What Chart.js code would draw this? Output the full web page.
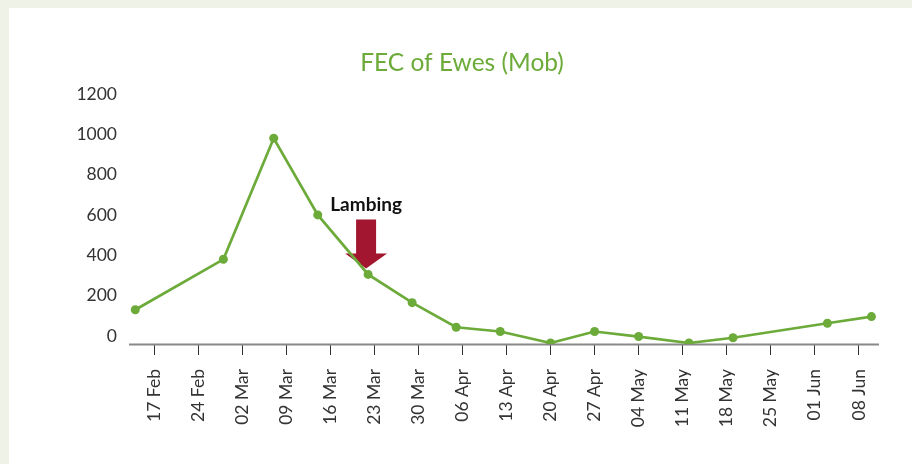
<!DOCTYPE html>
<html lang="en">
<head>
<meta charset="UTF-8">
<title>FEC of Ewes (Mob)</title>
<style>
  html, body { margin: 0; padding: 0; }
  body { width: 912px; height: 464px; background: #eff2e7; position: relative; overflow: hidden; }
  #panel { position: absolute; left: 9px; top: 8px; right: 0; bottom: 0; background: #fff; }
  #wrap { position: absolute; left: 0; top: 0; width: 912px; height: 464px; }
</style>
</head>
<body>
<div id="panel"></div>
<div id="wrap"><canvas id="myChart" width="912" height="464"></canvas></div>

<script src="https://cdn.jsdelivr.net/npm/chart.js"></script>
<script>
// sample dates and faecal egg counts
const sampleDates = ['2020-02-14', '2020-02-28', '2020-03-07', '2020-03-14', '2020-03-22',
                     '2020-03-29', '2020-04-05', '2020-04-12', '2020-04-20', '2020-04-27',
                     '2020-05-04', '2020-05-12', '2020-05-19', '2020-06-03', '2020-06-10'];
const fecValues = [170, 420, 1020, 640, 345, 205, 83, 62, 5, 62, 37, 5, 31, 103, 136];

// weekly ticks on the x axis
const tickDates = ['2020-02-17', '2020-02-24', '2020-03-02', '2020-03-09', '2020-03-16',
                   '2020-03-23', '2020-03-30', '2020-04-06', '2020-04-13', '2020-04-20',
                   '2020-04-27', '2020-05-04', '2020-05-11', '2020-05-18', '2020-05-25',
                   '2020-06-01', '2020-06-08'];
const tickLabels = ['17 Feb', '24 Feb', '02 Mar', '09 Mar', '16 Mar', '23 Mar', '30 Mar',
                    '06 Apr', '13 Apr', '20 Apr', '27 Apr', '04 May', '11 May', '18 May',
                    '25 May', '01 Jun', '08 Jun'];
const yTicks = [0, 200, 400, 600, 800, 1000, 1200];

const chartTitle = 'FEC of Ewes (Mob)';
const lambingDate = '2020-03-22';
const lambingLabel = 'Lambing';

// days since 17 Feb
const origin = Date.UTC(2020, 1, 17);
function dayNum(s) {
    const p = s.split('-');
    return (Date.UTC(+p[0], +p[1] - 1, +p[2]) - origin) / 86400000;
}

const green = '#6cab3a';
const fontFam = 'Lato, "Open Sans", sans-serif';

// title, x axis line, red arrow + label for lambing
const extras = {
    id: 'extras',
    beforeDatasetsDraw(chart) {
        const ctx = chart.ctx;
        const xs = chart.scales.x, ys = chart.scales.y;

        // title (centred on the white panel rather than the canvas)
        ctx.save();
        ctx.fillStyle = green;
        ctx.font = '24.5px ' + fontFam;
        ctx.textAlign = 'center';
        ctx.textBaseline = 'middle';
        ctx.fillText(chartTitle, 462, 63);
        ctx.restore();

        // axis line
        const y0 = ys.getPixelForValue(0) + 0.5;
        ctx.save();
        ctx.strokeStyle = '#888';
        ctx.lineWidth = 2;
        ctx.beginPath();
        ctx.moveTo(xs.getPixelForValue(xs.min), y0);
        ctx.lineTo(xs.getPixelForValue(xs.max), y0);
        ctx.stroke();
        ctx.restore();

        // lambing arrow
        const i = sampleDates.indexOf(lambingDate);
        const x = xs.getPixelForValue(dayNum(lambingDate)) - 2;
        const tipY = ys.getPixelForValue(fecValues[i]) - 6;
        ctx.save();
        ctx.fillStyle = '#a2172f';
        ctx.beginPath();
        ctx.moveTo(x - 10, tipY - 49);
        ctx.lineTo(x + 10, tipY - 49);
        ctx.lineTo(x + 10, tipY - 15);
        ctx.lineTo(x + 21, tipY - 15);
        ctx.lineTo(x, tipY);
        ctx.lineTo(x - 21, tipY - 15);
        ctx.lineTo(x - 10, tipY - 15);
        ctx.closePath();
        ctx.fill();
        ctx.fillStyle = '#111';
        ctx.font = 'bold 19px ' + fontFam;
        ctx.textAlign = 'center';
        ctx.textBaseline = 'alphabetic';
        ctx.fillText(lambingLabel, x, tipY - 57);
        ctx.restore();
    }
};

const ctx = document.getElementById('myChart').getContext('2d');
const myChart = new Chart(ctx, {
    type: 'line',
    data: {
        datasets: [{
            label: 'FEC',
            data: sampleDates.map((d, i) => ({ x: dayNum(d), y: fecValues[i] })),
            borderColor: green,
            backgroundColor: green,
            borderWidth: 2.7,
            pointRadius: 4.5,
            pointBorderWidth: 0,
            tension: 0
        }]
    },
    options: {
        responsive: false,
        animation: false,
        layout: { padding: { left: 0, right: 33, top: 102, bottom: 0 } },
        plugins: {
            legend: { display: false },
            tooltip: { enabled: false },
            title: { display: false }
        },
        scales: {
            x: {
                type: 'linear',
                min: -4,
                max: 115.2,
                afterBuildTicks: (scale) => {
                    scale.ticks = tickDates.map(d => ({ value: dayNum(d) }));
                },
                afterFit: (scale) => { scale.height = 120; },
                ticks: {
                    autoSkip: false,
                    minRotation: 90,
                    maxRotation: 90,
                    padding: 14,
                    color: '#333',
                    font: { family: fontFam, size: 17.5 },
                    callback: (v, i) => tickLabels[i]
                },
                grid: {
                    display: true,
                    drawOnChartArea: false,
                    drawTicks: true,
                    tickLength: 11,
                    color: '#333',
                    lineWidth: 1
                },
                border: { display: false }
            },
            y: {
                min: 0,
                max: 1200,
                afterBuildTicks: (scale) => {
                    scale.ticks = yTicks.map(v => ({ value: v }));
                },
                afterFit: (scale) => { scale.width = 129; },
                ticks: {
                    padding: 12,
                    labelOffset: -8,
                    color: '#333',
                    font: { family: fontFam, size: 17.5 },
                    callback: (v) => String(v)
                },
                grid: { display: false, drawTicks: false },
                border: { display: false }
            }
        }
    },
    plugins: [extras]
});
</script>
</body>
</html>
